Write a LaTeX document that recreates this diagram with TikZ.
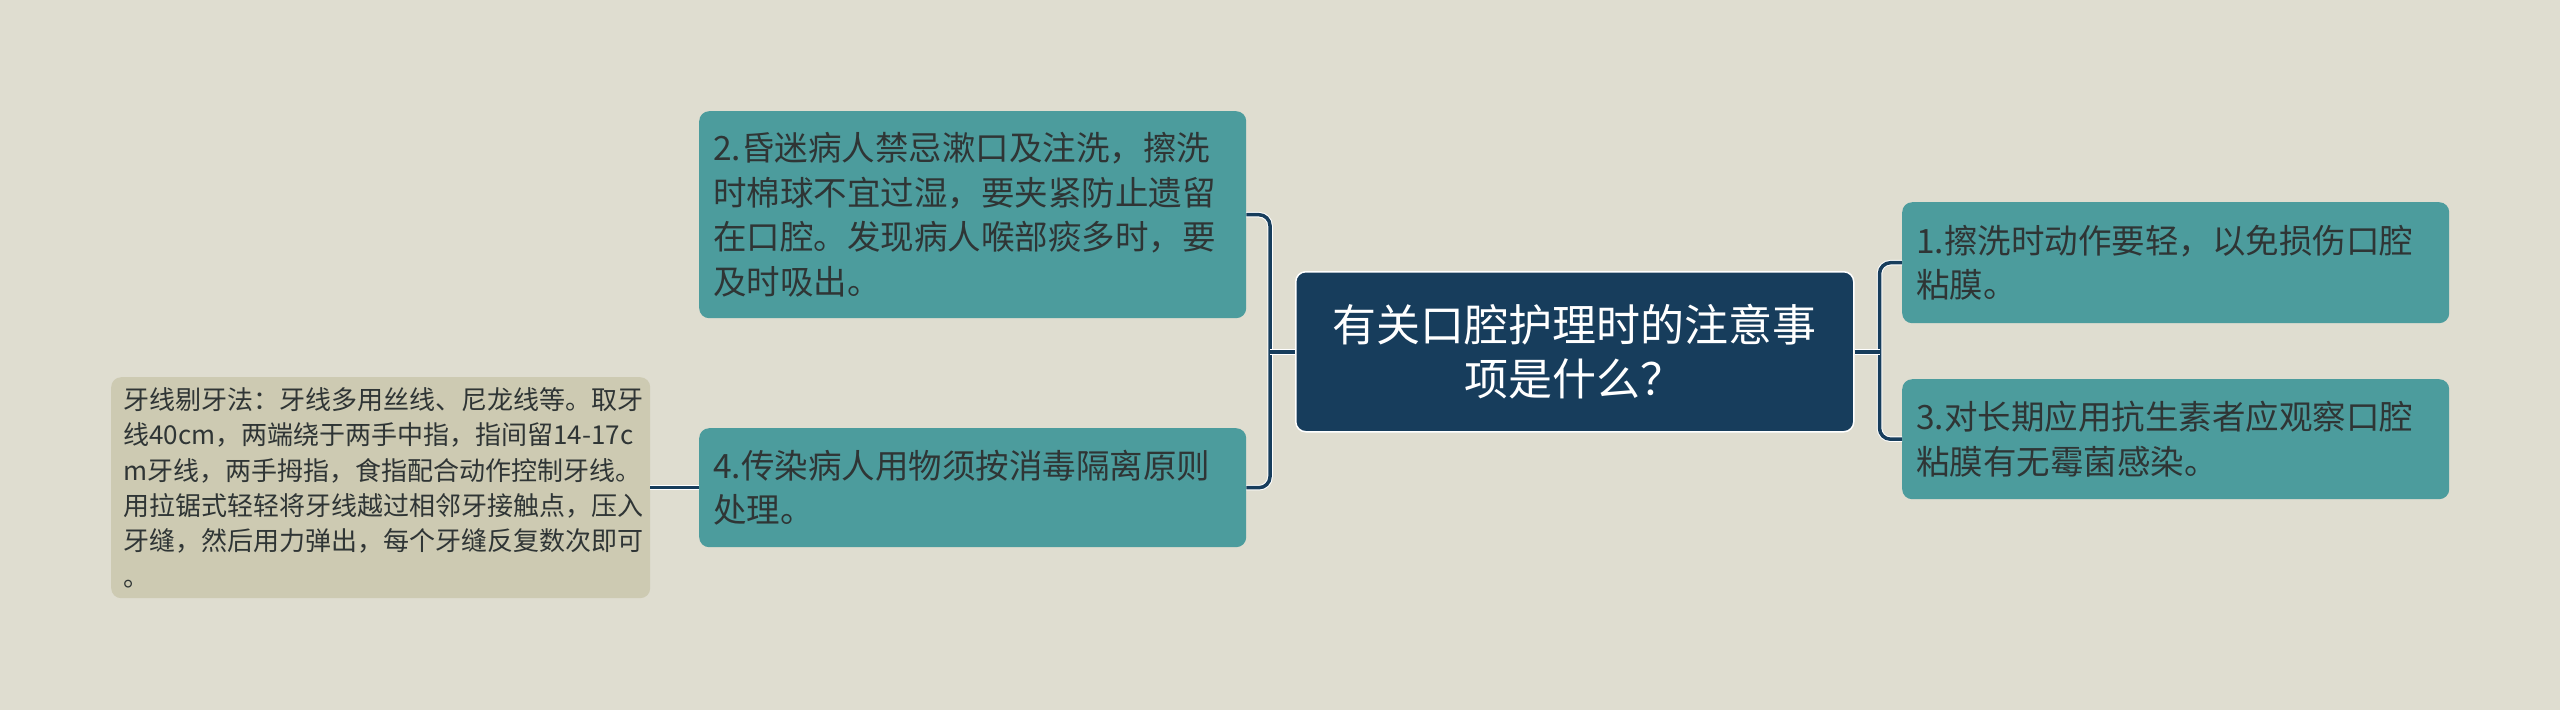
\documentclass[tikz,border=0pt]{standalone}
\usepackage{fontspec}
\setmainfont{Noto Sans CJK SC}
\usetikzlibrary{positioning}
\definecolor{bgcol}{HTML}{DFDDD0}
\definecolor{rootcol}{HTML}{173D5C}
\definecolor{leafcol}{HTML}{4C9C9D}
\definecolor{notecol}{HTML}{CDCAB2}
\definecolor{inkcol}{HTML}{2F3535}
\begin{document}
\begin{tikzpicture}[x=1pt,y=-1pt,
   every node/.style={rounded corners=10pt, align=left, inner ysep=0pt},
   rootbox/.style={fill=rootcol, draw=white, line width=1.5pt, text=white,
     align=center, inner xsep=15pt, text width=528pt, minimum height=160pt,
     font=\fontsize{44}{54}\selectfont},
   leafbox/.style={fill=leafcol, text=inkcol, inner xsep=14pt,
     text width=519pt, font=\fontsize{33.5}{44.6}\selectfont},
   notebox/.style={fill=notecol, text=inkcol, inner xsep=12pt,
     text width=515pt, minimum height=221pt,
     font=\fontsize{26}{35.4}\selectfont},
   conn/.style={draw=white, line width=1pt, double=rootcol,
     double distance=3.5pt, rounded corners=11pt}]

\fill[bgcol] (0,0) rectangle (2560,710);
\useasboundingbox (0,0) rectangle (2560,710);

\node[rootbox, anchor=north west] (root) at (1295,271)
    {有关口腔护理时的注意事\\项是什么？};
\node[leafbox, anchor=north west, minimum height=207pt] (b2) at (699,111)
    {2.昏迷病人禁忌漱口及注洗，擦洗\\时棉球不宜过湿，要夹紧防止遗留\\在口腔。发现病人喉部痰多时，要\\及时吸出。};
\node[leafbox, anchor=north west, minimum height=119pt] (b4) at (699,428)
    {4.传染病人用物须按消毒隔离原则\\处理。};
\node[leafbox, anchor=north west, minimum height=121pt] (b1) at (1902,202)
    {1.擦洗时动作要轻，以免损伤口腔\\粘膜。};
\node[leafbox, anchor=north west, minimum height=120pt] (b3) at (1902,379)
    {3.对长期应用抗生素者应观察口腔\\粘膜有无霉菌感染。};
\node[notebox, anchor=north west] (note) at (111,377)
    {牙线剔牙法：牙线多用丝线、尼龙线等。取牙\\线40cm，两端绕于两手中指，指间留14-17c\\m牙线，两手拇指，食指配合动作控制牙线。\\用拉锯式轻轻将牙线越过相邻牙接触点，压入\\牙缝，然后用力弹出，每个牙缝反复数次即可\\。};

\coordinate (lbus) at ([xshift=-25pt]root.west);
\coordinate (rbus) at ([xshift=25pt]root.east);

\draw[conn] (b2.east) -| (lbus) |- (b4.east);
\draw[conn] (b1.west) -| (rbus) |- (b3.west);
\draw[conn] (b4.west) -- (note.east);
\draw[conn] (lbus) -- (root.west);
\draw[conn] (root.east) -- (rbus);

\end{tikzpicture}
\end{document}
